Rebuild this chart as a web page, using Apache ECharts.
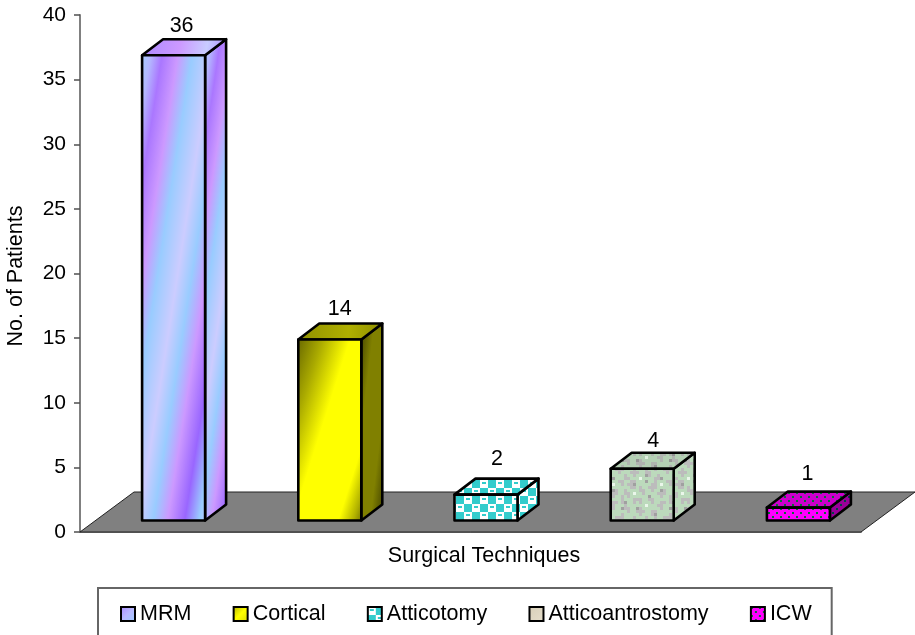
<!DOCTYPE html>
<html>
<head>
<meta charset="utf-8">
<style>html,body{margin:0;padding:0;background:#fff}#chart{width:915px;height:635px}</style>
<script src="https://cdn.jsdelivr.net/npm/echarts@6/dist/echarts.min.js"></script>
</head>
<body>
<div id="chart"></div>
<script>
// Patients per surgical technique
const categories = ['MRM', 'Cortical', 'Atticotomy', 'Atticoantrostomy', 'ICW'];
const patientCounts = [36, 14, 2, 4, 1];
const yTicks = { min: 0, max: 40, interval: 5 };
const xTitle = 'Surgical Techniques';
const yTitle = 'No. of Patients';

const FONT = '"Liberation Sans", Arial, sans-serif';
const FONT_SIZE = 21.5;
const Grad = echarts.graphic.LinearGradient;

// Builds a repeating fill from rows of palette keys
function tile(rows, palette, scale) {
  const c = document.createElement('canvas');
  c.width = rows[0].length * scale;
  c.height = rows.length * scale;
  const ctx = c.getContext('2d');
  rows.forEach((row, y) => [...row].forEach((k, x) => {
    ctx.fillStyle = palette[k];
    ctx.fillRect(x * scale, y * scale, scale, scale);
  }));
  return { image: c, repeat: 'repeat' };
}

const checkRows = ['WWWWTTTT', 'WTTWTTTT', 'WWWWTTTT', 'WWWWTTTT', 'TTTTWWWW', 'TTTTWTTW', 'TTTTWWWW', 'TTTTWWWW'];
const checkFill = tile(checkRows, { W: '#ffffff', T: '#33cccc' }, 2);

const mottleRows = [
  'GGSSGGGDGGSGGGSS',
  'GSSDGGGGGSSGWGGS',
  'GGSSGSGGSSSGGGGG',
  'SGGGGSSGGSGGDSGG',
  'SSGWGGSGGGGSSSGG',
  'GSGGGGGGDGGGSGGS',
  'GGGSSSGGSSGGGGGS',
  'DGGSGSGGGSGGSSGS',
  'SGGGGGGWGGGSSGGG',
  'SSGGDSGGGGGGSGGD',
  'GSGGSSSGGSSGGGGG',
  'GGGGGSGGGSDGGGGS',
  'GGGSGGGSGGSGGSSS',
  'GGSSSGGSSGGGGGSG',
  'SGGSGGGDSGGSGGGG',
  'SSGGGWGGGGSSDGGG'
];
const mottleFill = tile(mottleRows, { G: '#bcdabc', S: '#bcbcbc', D: '#a0a0a0', W: '#eaf6ea' }, 3);
const mottleTopFill = tile(mottleRows, { G: '#b4d0b4', S: '#b0b4b0', D: '#949494', W: '#e0f0e0' }, 3);

const dotRows = ['DMMM', 'MMMM', 'MMDM', 'MMMM'];
const dotFill = tile(dotRows, { M: '#ff00ff', D: '#0a6a3a' }, 2);
const dotTopFill = tile(dotRows, { M: '#cc00cc', D: '#0a6a3a' }, 2);
const dotSideFill = tile(dotRows, { M: '#990099', D: '#044' }, 2);

const stops = (list) => list.map(([offset, color]) => ({ offset, color }));
const mrmStops = stops([
  [0, '#a6d0ff'], [0.07, '#b4b8ff'], [0.15, '#aa77ff'], [0.26, '#cc99ff'], [0.36, '#99ccff'],
  [0.5, '#ccccff'], [0.6, '#99ccff'], [0.7, '#cc99ff'], [0.82, '#9966ff'], [0.92, '#99ccff'], [1, '#ccccff']
]);

// Front, side and top fills for each technique
const faceFills = [
  {
    front: new Grad(0, 0, 2.13, 0.047, mrmStops),
    side: new Grad(0, 0, 4.7, 0.034, mrmStops),
    top: new Grad(0, 0, 1, 1, stops([[0, '#aa88ff'], [0.45, '#cc99ff'], [0.75, '#c8ccff'], [1, '#aa88ff']]))
  },
  {
    front: new Grad(0, 0, 1.76, 0.2, stops([[0, '#666600'], [0.2, '#aaaa00'], [0.42, '#ffff00'], [0.78, '#ffff00'], [0.9, '#b0b000'], [1, '#5a5a00']])),
    side: new Grad(0, 0, 2, 0.028, stops([[0, '#3f3f00'], [0.3, '#808000'], [0.7, '#808000'], [1, '#3a3a00']])),
    top: new Grad(0, 0, 1, 0.3, stops([[0, '#8f8f00'], [0.6, '#b0b000'], [1, '#8f8f00']]))
  },
  { front: checkFill, side: checkFill, top: checkFill },
  { front: mottleFill, side: mottleFill, top: mottleTopFill },
  { front: dotFill, side: dotSideFill, top: dotTopFill }
];

const legendSwatches = [
  new Grad(0, 0, 1, 1, stops([[0, '#aa88ff'], [0.5, '#b8b8ff'], [1, '#99ccff']])),
  new Grad(0, 0, 1, 1, stops([[0, '#b0b000'], [0.5, '#ffff00'], [1, '#d8d800']])),
  checkFill,
  new Grad(0, 0, 1, 1, stops([[0, '#d8cfb8'], [1, '#e6dfcc']])),
  dotFill
];

// Box geometry in pixels: the front face sits above the floor's front edge,
// and the receding faces run up and to the right.
const BAR_WIDTH = 63;
const FLOOR_LIFT = 11.5;
const BAR_SHIFT = 15.5;
const DEPTH_X = 21;
const DEPTH_Y = 16;
const FLOOR_DX = 54;
const FLOOR_DY = 40;
const labelNudge = [[-3, 1], [-1, 0], [0, -6], [0, 2], [-2, -3]];

function renderBox(params, api) {
  const i = api.value(0);
  const v = api.value(1);
  const top = api.coord([i, v]);
  const base = api.coord([i, 0]);
  const l = top[0] + BAR_SHIFT - BAR_WIDTH / 2;
  const r = l + BAR_WIDTH;
  const t = top[1] - FLOOR_LIFT;
  const b = base[1] - FLOOR_LIFT;
  const edge = { stroke: '#000', lineWidth: 2.6, lineJoin: 'round' };
  const fills = faceFills[i];
  const face = (points, fill) => ({
    type: 'polygon',
    shape: { points },
    style: Object.assign({ fill }, edge)
  });
  return {
    type: 'group',
    children: [
      face([[r, t], [r + DEPTH_X, t - DEPTH_Y], [r + DEPTH_X, b - DEPTH_Y], [r, b]], fills.side),
      face([[l, t], [l + DEPTH_X, t - DEPTH_Y], [r + DEPTH_X, t - DEPTH_Y], [r, t]], fills.top),
      face([[l, t], [r, t], [r, b], [l, b]], fills.front),
      {
        type: 'text',
        x: (l + r) / 2 + 11 + labelNudge[i][0],
        y: t - 30 + labelNudge[i][1],
        style: {
          text: String(v),
          fill: '#000',
          font: FONT_SIZE + 'px ' + FONT,
          textAlign: 'center',
          textVerticalAlign: 'middle'
        }
      }
    ]
  };
}

function renderFloor(params) {
  const g = params.coordSys;
  const x0 = g.x, x1 = g.x + g.width, y0 = g.y + g.height;
  return {
    type: 'polygon',
    shape: {
      points: [[x0, y0], [x0 + FLOOR_DX, y0 - FLOOR_DY], [x1 + FLOOR_DX, y0 - FLOOR_DY], [x1, y0]]
    },
    style: { fill: '#808080', stroke: '#222', lineWidth: 1 }
  };
}

const chart = echarts.init(document.getElementById('chart'), null, { renderer: 'canvas' });
chart.setOption({
  backgroundColor: '#fff',
  animation: false,
  textStyle: { fontFamily: FONT },
  grid: { left: 80, right: 54, top: 15, bottom: 103, containLabel: false, outerBoundsMode: 'none' },
  xAxis: {
    type: 'category',
    data: categories,
    name: xTitle,
    nameLocation: 'middle',
    nameGap: 13,
    nameTextStyle: { color: '#000', fontSize: FONT_SIZE, fontFamily: FONT, padding: [0, 0, 0, 27] },
    axisLine: { lineStyle: { color: '#808080', width: 2 } },
    axisTick: { show: false },
    axisLabel: { show: false },
    splitLine: { show: false }
  },
  yAxis: {
    type: 'value',
    min: yTicks.min,
    max: yTicks.max,
    interval: yTicks.interval,
    name: yTitle,
    nameLocation: 'middle',
    nameGap: 53,
    nameTextStyle: { color: '#000', fontSize: FONT_SIZE, fontFamily: FONT, padding: [0, 5, 0, 0] },
    axisLine: { show: true, lineStyle: { color: '#808080', width: 2 } },
    axisTick: { show: true, length: 6, lineStyle: { color: '#505050', width: 1.5 } },
    axisLabel: { color: '#000', fontSize: 21, fontFamily: FONT, margin: 14 },
    splitLine: { show: false }
  },
  legend: {
    left: 98,
    top: 588,
    orient: 'horizontal',
    itemWidth: 14,
    itemHeight: 14,
    itemGap: 41.3,
    padding: [15, 20, 40, 22],
    borderColor: '#666',
    borderWidth: 2,
    backgroundColor: '#fff',
    selectedMode: false,
    textStyle: { color: '#000', fontSize: FONT_SIZE, fontFamily: FONT },
    data: categories.map((name, i) => ({
      name,
      icon: 'rect',
      itemStyle: { color: legendSwatches[i], borderColor: '#000', borderWidth: 2 }
    }))
  },
  series: [
    {
      type: 'custom',
      name: 'floor',
      silent: true,
      z: 1,
      renderItem: renderFloor,
      data: [[0, 0]]
    }
  ].concat(categories.map((name, i) => ({
    type: 'custom',
    name,
    z: 2,
    renderItem: renderBox,
    encode: { x: 0, y: 1 },
    data: [[i, patientCounts[i]]]
  })))
});
</script>
</body>
</html>
